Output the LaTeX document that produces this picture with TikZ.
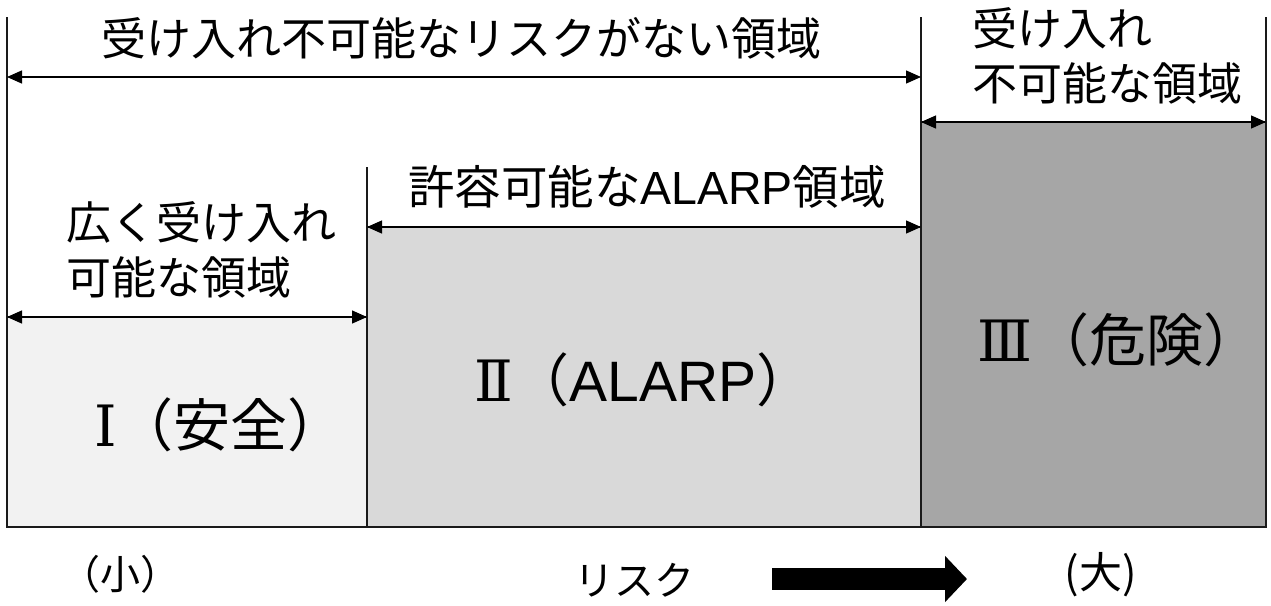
\documentclass[tikz,border=0pt]{standalone}
\usepackage{fontspec}
\setmainfont{Noto Sans CJK JP}
\newfontfamily\romf{DejaVu Serif}
\newfontfamily\latf{Liberation Sans}
\usetikzlibrary{arrows.meta}
\definecolor{fillA}{HTML}{F2F2F2}
\definecolor{fillB}{HTML}{D9D9D9}
\definecolor{fillC}{HTML}{A6A6A6}
\definecolor{edge}{HTML}{1A1A1A}
\begin{document}
\begin{tikzpicture}[x=1pt,y=-1pt,
  zone/.style={draw=edge,line width=1.3pt,inner sep=0pt,outer sep=0pt,anchor=north west},
  guide/.style={draw=edge,line width=1.3pt},
  span/.style={draw=black,line width=1.3pt,{Triangle[length=15pt,width=13pt]}-{Triangle[length=15pt,width=13pt]}},
  lbl/.style={inner sep=0pt,font=\fontsize{45}{55}\selectfont},
  big/.style={inner sep=0pt,font=\fontsize{57}{60}\selectfont},
  axis/.style={inner sep=0pt,font=\fontsize{40}{44}\selectfont}]
\useasboundingbox (0,0) rectangle (1271,605);
% zones
\node[zone,fill=fillA,minimum width=360pt,minimum height=210pt] (z1) at (7,317) {};
\node[zone,fill=fillB,minimum width=554pt,minimum height=300pt] (z2) at (367,227) {};
\node[zone,fill=fillC,minimum width=345pt,minimum height=405pt] (z3) at (921,122) {};
% guide coordinates
\coordinate (g1) at (7,17);
\coordinate (g2) at (367,167);
\coordinate (g3) at (921,17);
\coordinate (g4) at (1266,17);
\draw[guide] (g1) -- (z1.north west);
\draw[guide] (g2) -- (z2.north west);
\draw[guide] (g3) -- (z3.north west);
\draw[guide] (g4) -- (z3.north east);
% spans
\coordinate (a1) at (7,77);
\coordinate (a2) at (921,77);
\draw[span] (a1) -- (a2);
\draw[span] (z3.north west) -- (z3.north east);
\draw[span] (z2.north west) -- (z2.north east);
\draw[span] (z1.north west) -- (z1.north east);
% labels
\node[lbl] (t1) at (461,38) {受け入れ不可能なリスクがない領域};
\node[lbl,align=left,anchor=west] (t2) at (972,56) {受け入れ\\不可能な領域};
\node[lbl,font=\fontsize{46.5}{55}\selectfont] (t3) at (647,187) {許容可能な{\latf ALARP}領域};
\node[lbl,align=left,anchor=west] (t4) at (66,250) {広く受け入れ\\可能な領域};
\node[big,anchor=west] (n1) at (94,425) {{\romf Ⅰ}（安全）};
\node[big,anchor=west] (n2) at (474,380) {{\romf Ⅱ}（{\latf ALARP}）};
\node[big,anchor=west] (n3) at (977,340) {{\romf Ⅲ}（危険）};
% axis
\node[axis] (s) at (120,574) {（小）};
\node[axis] (r) at (634,580) {リスク};
\node[axis,font=\fontsize{43}{46}\selectfont] (l) at (1101,575) {(大)};
\coordinate (ar0) at (772,579);
\coordinate (ar1) at (967,579);
\draw[line width=22pt,-{Triangle[length=22pt,width=45pt]}] (ar0) -- (ar1);
\end{tikzpicture}
\end{document}
